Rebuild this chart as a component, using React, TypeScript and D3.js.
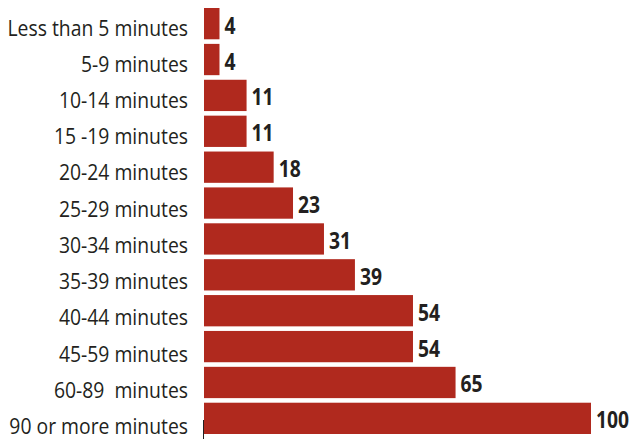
import React from "react";
import * as d3 from "d3";

// Share of commuters by travel-time bucket (index, longest = 100)
const categories: string[] = [
  "Less than 5 minutes",
  "5-9 minutes",
  "10-14 minutes",
  "15 -19 minutes",
  "20-24 minutes",
  "25-29 minutes",
  "30-34 minutes",
  "35-39 minutes",
  "40-44 minutes",
  "45-59 minutes",
  "60-89  minutes",
  "90 or more minutes",
];
const values: number[] = [4, 4, 11, 11, 18, 23, 31, 39, 54, 54, 65, 100];

const W = 631;
const H = 439;
const BAR_COLOR = "#b0291e";
const TEXT_COLOR = "#231f20";
const FONT = "'Open Sans', 'Noto Sans', sans-serif";

export default function App() {
  const x = d3.scaleLinear().domain([0, 100]).range([204, 591]);
  const y = d3
    .scaleBand<string>()
    .domain(categories)
    .range([8, 434])
    .paddingInner(0.128)
    .paddingOuter(0);
  // category label baselines run on a slightly longer track than the bars
  const labelY = d3.scalePoint<string>().domain(categories).range([35.5, 434]);

  const rows = categories.map((c, i) => ({ c, v: values[i] }));

  return (
    <svg
      width={W}
      height={H}
      viewBox={`0 0 ${W} ${H}`}
      style={{ position: "absolute", left: 0, top: 0, display: "block", background: "#fff" }}
    >
      {rows.map((d) => {
        const y0 = y(d.c)!;
        const bw = y.bandwidth();
        const cy = y0 + bw / 2;
        return (
          <g key={d.c}>
            <rect x={x(0)} y={y0} width={x(d.v) - x(0)} height={bw} fill={BAR_COLOR} />
            <text
              transform={`translate(188,${labelY(d.c)}) scale(0.88,1)`}
              textAnchor="end"
              fontFamily={FONT}
              fontSize={22}
              fill={TEXT_COLOR}
              style={{ whiteSpace: "pre" }}
            >
              {d.c}
            </text>
            <text
              transform={`translate(${x(d.v) + 5},${cy + 10}) scale(0.84,1)`}
              fontFamily={FONT}
              fontWeight={700}
              fontSize={23}
              fill={TEXT_COLOR}
            >
              {d.v}
            </text>
          </g>
        );
      })}
      <line x1={x(0) - 0.5} x2={x(0) - 0.5} y1={420} y2={H} stroke={TEXT_COLOR} strokeWidth={1} />
    </svg>
  );
}
